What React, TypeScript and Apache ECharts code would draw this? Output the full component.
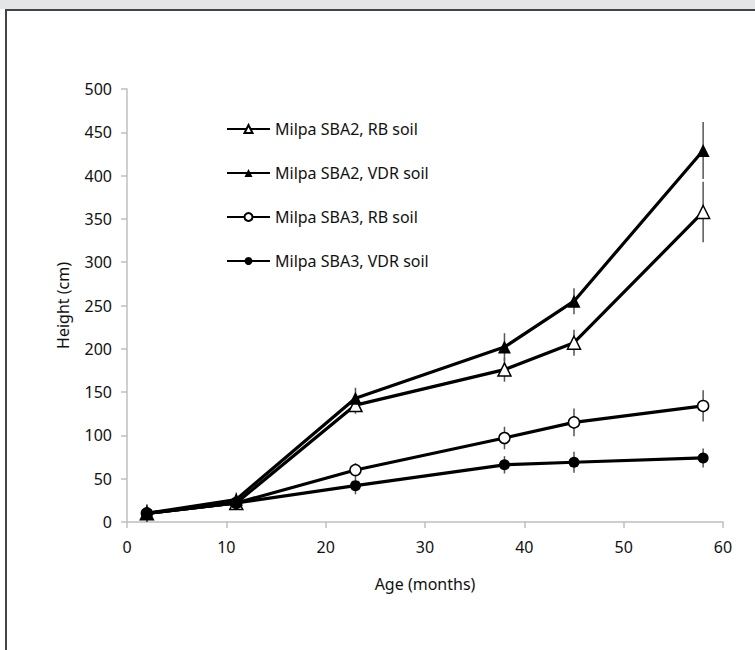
import React, { useEffect, useRef } from "react";
import * as echarts from "echarts";

const ages = [2, 11, 23, 38, 45, 58];
const seriesNames = [
  "Milpa SBA2, RB soil",
  "Milpa SBA2, VDR soil",
  "Milpa SBA3, RB soil",
  "Milpa SBA3, VDR soil",
];
const sba2Rb = [10, 22, 135, 176, 207, 358];
const sba2Vdr = [10, 26, 143, 202, 255, 429];
const sba3Rb = [10, 22, 60, 97, 115, 134];
const sba3Vdr = [10, 22, 42, 66, 69, 74];
const sba2RbErr = [10, 6, 10, 14, 15, 35];
const sba2VdrErr = [10, 8, 12, 16, 15, 33];
const sba3RbErr = [10, 6, 8, 13, 16, 18];
const sba3VdrErr = [10, 8, 10, 10, 12, 11];

const FONT = "Noto Sans";

export default function App() {
  const ref = useRef<HTMLDivElement>(null);
  useEffect(() => {
    if (!ref.current) return;
    const chart = echarts.init(ref.current, null, { renderer: "svg" });
    const values = [sba2Rb, sba2Vdr, sba3Rb, sba3Vdr];
    const errs = [sba2RbErr, sba2VdrErr, sba3RbErr, sba3VdrErr];
    const symbols = ["triangle", "triangle", "circle", "circle"];
    const filled = [false, true, false, true];
    const sizes = [13, 13, 11, 11];

    const errorData: number[][] = [];
    values.forEach((vals, si) => {
      vals.forEach((v, i) => {
        errorData.push([ages[i], v - errs[si][i], v + errs[si][i]]);
      });
    });

    const lineSeries = values.map((vals, si) => ({
      type: "line",
      name: seriesNames[si],
      data: vals.map((v, i) => [ages[i], v]),
      symbol: symbols[si],
      symbolSize: sizes[si],
      showAllSymbol: true,
      lineStyle: { color: "#000", width: 3.2 },
      itemStyle: {
        color: filled[si] ? "#000" : "#fff",
        borderColor: "#000",
        borderWidth: filled[si] ? 0 : 1.5,
      },
      z: 3,
    }));

    chart.setOption({
      animation: false,
      textStyle: { fontFamily: FONT },
      grid: { left: 127, right: 32, top: 89, bottom: 128, containLabel: false },
      legend: {
        orient: "vertical",
        left: 221,
        top: 116,
        itemWidth: 43,
        itemHeight: 10,
        itemGap: 28,
        data: seriesNames,
        textStyle: { fontFamily: FONT, fontSize: 16, color: "#111", lineHeight: 16 },
      },
      xAxis: {
        type: "value",
        min: 0,
        max: 60,
        interval: 10,
        name: "Age (months)",
        nameLocation: "middle",
        nameGap: 54,
        nameTextStyle: { fontFamily: FONT, fontSize: 16, color: "#111" },
        axisLine: { show: true, lineStyle: { color: "#bfbfbf", width: 1.5 } },
        axisTick: { show: true, length: 6, lineStyle: { color: "#bfbfbf", width: 1.5 } },
        axisLabel: { fontFamily: FONT, fontSize: 16, color: "#111", margin: 17 },
        splitLine: { show: false },
      },
      yAxis: {
        type: "value",
        min: 0,
        max: 500,
        interval: 50,
        name: "Height (cm)",
        nameLocation: "middle",
        nameGap: 56,
        nameTextStyle: { fontFamily: FONT, fontSize: 16, color: "#111" },
        axisLine: { show: true, lineStyle: { color: "#bfbfbf", width: 1.5 } },
        axisTick: { show: true, length: 6, lineStyle: { color: "#bfbfbf", width: 1.5 } },
        axisLabel: { fontFamily: FONT, fontSize: 16, color: "#111", margin: 15 },
        splitLine: { show: false },
      },
      series: [
        {
          type: "custom",
          name: "errors",
          silent: true,
          z: 1,
          data: errorData,
          encode: { x: 0, y: [1, 2] },
          renderItem: (params: any, api: any) => {
            const p1 = api.coord([api.value(0), api.value(1)]);
            const p2 = api.coord([api.value(0), api.value(2)]);
            return {
              type: "line",
              shape: { x1: p1[0], y1: p1[1], x2: p2[0], y2: p2[1] },
              style: { stroke: "#555", lineWidth: 1.5 },
            };
          },
        },
        ...lineSeries,
      ],
    });
    return () => chart.dispose();
  }, []);

  return (
    <div
      style={{
        position: "fixed",
        left: 0,
        top: 0,
        width: 755,
        height: 650,
        background: "#fff",
        overflow: "hidden",
      }}
    >
      <div
        style={{ position: "absolute", left: 0, top: 0, width: 755, height: 9, background: "#e4e5e7" }}
      />
      <div style={{ position: "absolute", left: 5, top: 9, width: 750, height: 2, background: "#444" }} />
      <div style={{ position: "absolute", left: 5, top: 9, width: 2, height: 641, background: "#444" }} />
      <div ref={ref} style={{ position: "absolute", left: 0, top: 0, width: 755, height: 650 }} />
    </div>
  );
}
